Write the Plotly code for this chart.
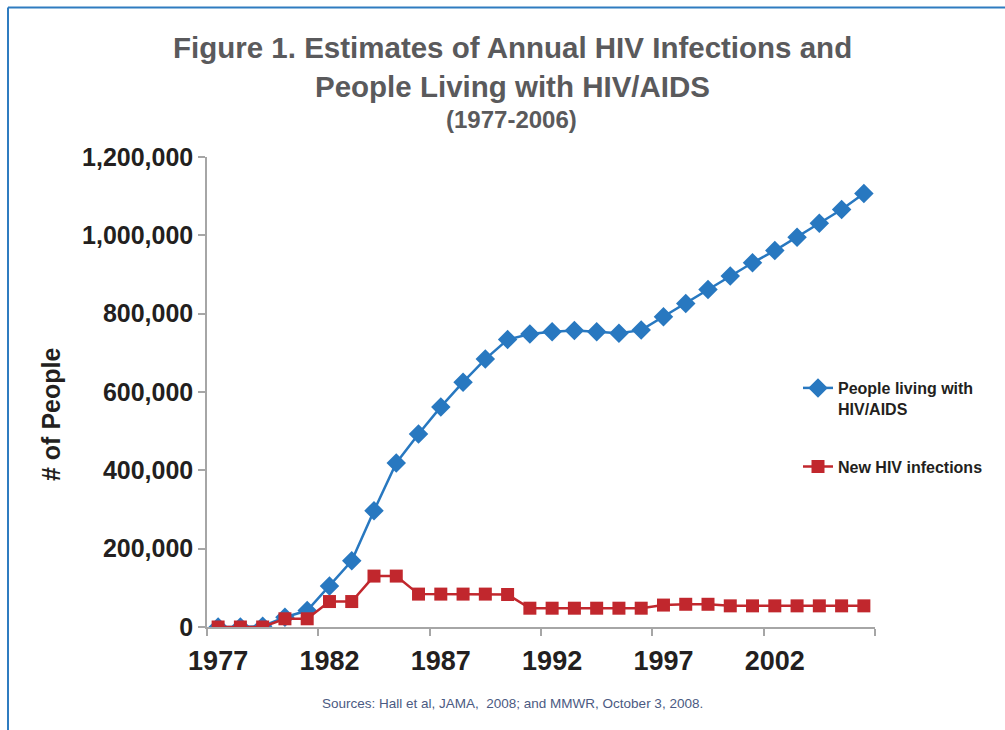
import plotly.graph_objects as go

years = list(range(1977, 2007))
living = [0, 0, 2000, 25000, 42000, 105000, 169000, 297000, 419000, 493000,
          562000, 625000, 684000, 734000, 748000, 754000, 757000, 754000, 750000, 758000,
          792000, 826000, 862000, 896000, 930000, 961000, 995000, 1031000, 1066000, 1107000]
new_inf = [0, 0, 0, 21000, 21000, 65000, 65000, 130000, 130000, 84000,
           84000, 84000, 84000, 83000, 48000, 48000, 48000, 48000, 48000, 48000,
           56000, 58000, 58000, 54000, 54000, 54000, 54000, 54000, 54000, 54000]
tick_years = [1977, 1982, 1987, 1992, 1997, 2002]
y_ticks = [0, 200000, 400000, 600000, 800000, 1000000, 1200000]

FONT = "Liberation Sans, Arial, sans-serif"
BLUE = "#2878c0"
RED = "#c1272d"
GRAY = "#a6a6a6"

L, R, T, B = 207, 130, 157, 103
W, H = 1005, 730
pw, ph = W - L - R, H - T - B
def px(x):
    return (x - L) / pw
def py(y):
    return (H - B - y) / ph

def f(size, color="#231f20", bold=True):
    return dict(family=FONT, size=size, color=color, weight="bold" if bold else "normal")

fig = go.Figure()
fig.add_trace(go.Scatter(
    x=years, y=living, mode="lines+markers", name="People living with<br>HIV/AIDS",
    line=dict(color=BLUE, width=2.5), marker=dict(symbol="diamond", size=15, color=BLUE),
    legendgroup="a"))
fig.add_trace(go.Scatter(
    x=years, y=new_inf, mode="lines+markers", name="New HIV infections",
    line=dict(color=RED, width=2.5), marker=dict(symbol="square", size=13, color=RED),
    legendgroup="b"))

fig.update_layout(
    width=W, height=H,
    margin=dict(l=L, r=R, t=T, b=B),
    paper_bgcolor="white", plot_bgcolor="white",
    font=dict(family=FONT, color="#231f20"),
    showlegend=True,
    legend=dict(x=px(798), y=py(371), xanchor="left", yanchor="top",
                font=f(16), itemwidth=30, valign="top",
                tracegroupgap=34, traceorder="grouped", bgcolor="rgba(0,0,0,0)"),
    xaxis=dict(range=[1976.5, 2006.5], tickvals=tick_years, ticktext=[str(v) for v in tick_years],
               ticks="", showgrid=False, zeroline=False, showline=True, linecolor=GRAY, linewidth=1.5,
               tickfont=f(27), ticklabelstandoff=9,
               minor=dict(tick0=1976.5, dtick=5, ticks="outside", ticklen=7, tickcolor=GRAY, tickwidth=1.5, showgrid=False)),
    yaxis=dict(range=[0, 1200000], tickvals=y_ticks, tickformat=",", ticks="outside", ticklen=7,
               tickcolor=GRAY, tickwidth=1.5, showgrid=False, zeroline=False, showline=True,
               linecolor=GRAY, linewidth=1.5, tickfont=f(25)),
)

for text, yy in [("Figure 1. Estimates of Annual HIV Infections and", 47), ("People Living with HIV/AIDS", 86)]:
    fig.add_annotation(text=text, x=px(512), y=py(yy), xref="paper", yref="paper",
                       showarrow=False, xanchor="center", yanchor="middle", font=f(29.5, "#5a5a5c"))
fig.add_annotation(text="(1977-2006)", x=px(511), y=py(119), xref="paper", yref="paper",
                   showarrow=False, xanchor="center", yanchor="middle", font=f(24, "#5a5a5c"))
fig.add_annotation(text="# of People", x=px(51), y=py(415), xref="paper", yref="paper",
                   showarrow=False, xanchor="center", yanchor="middle", textangle=-90, font=f(25))
fig.add_annotation(text="Sources: Hall et al, JAMA,  2008; and MMWR, October 3, 2008.", x=px(512), y=py(703),
                   xref="paper", yref="paper", showarrow=False, xanchor="center", yanchor="middle",
                   font=f(13.5, "#4b5a82", bold=False))

fig.add_shape(type="line", xref="paper", yref="paper", x0=px(8), x1=px(1005), y0=py(7.5), y1=py(7.5),
              line=dict(color="#2f7cc0", width=2))
fig.add_shape(type="line", xref="paper", yref="paper", x0=px(8), x1=px(8), y0=py(7.5), y1=py(730),
              line=dict(color="#2f7cc0", width=2))

fig.write_html("out.html", config={"displayModeBar": False},
               post_script="document.body.style.margin='0';")
